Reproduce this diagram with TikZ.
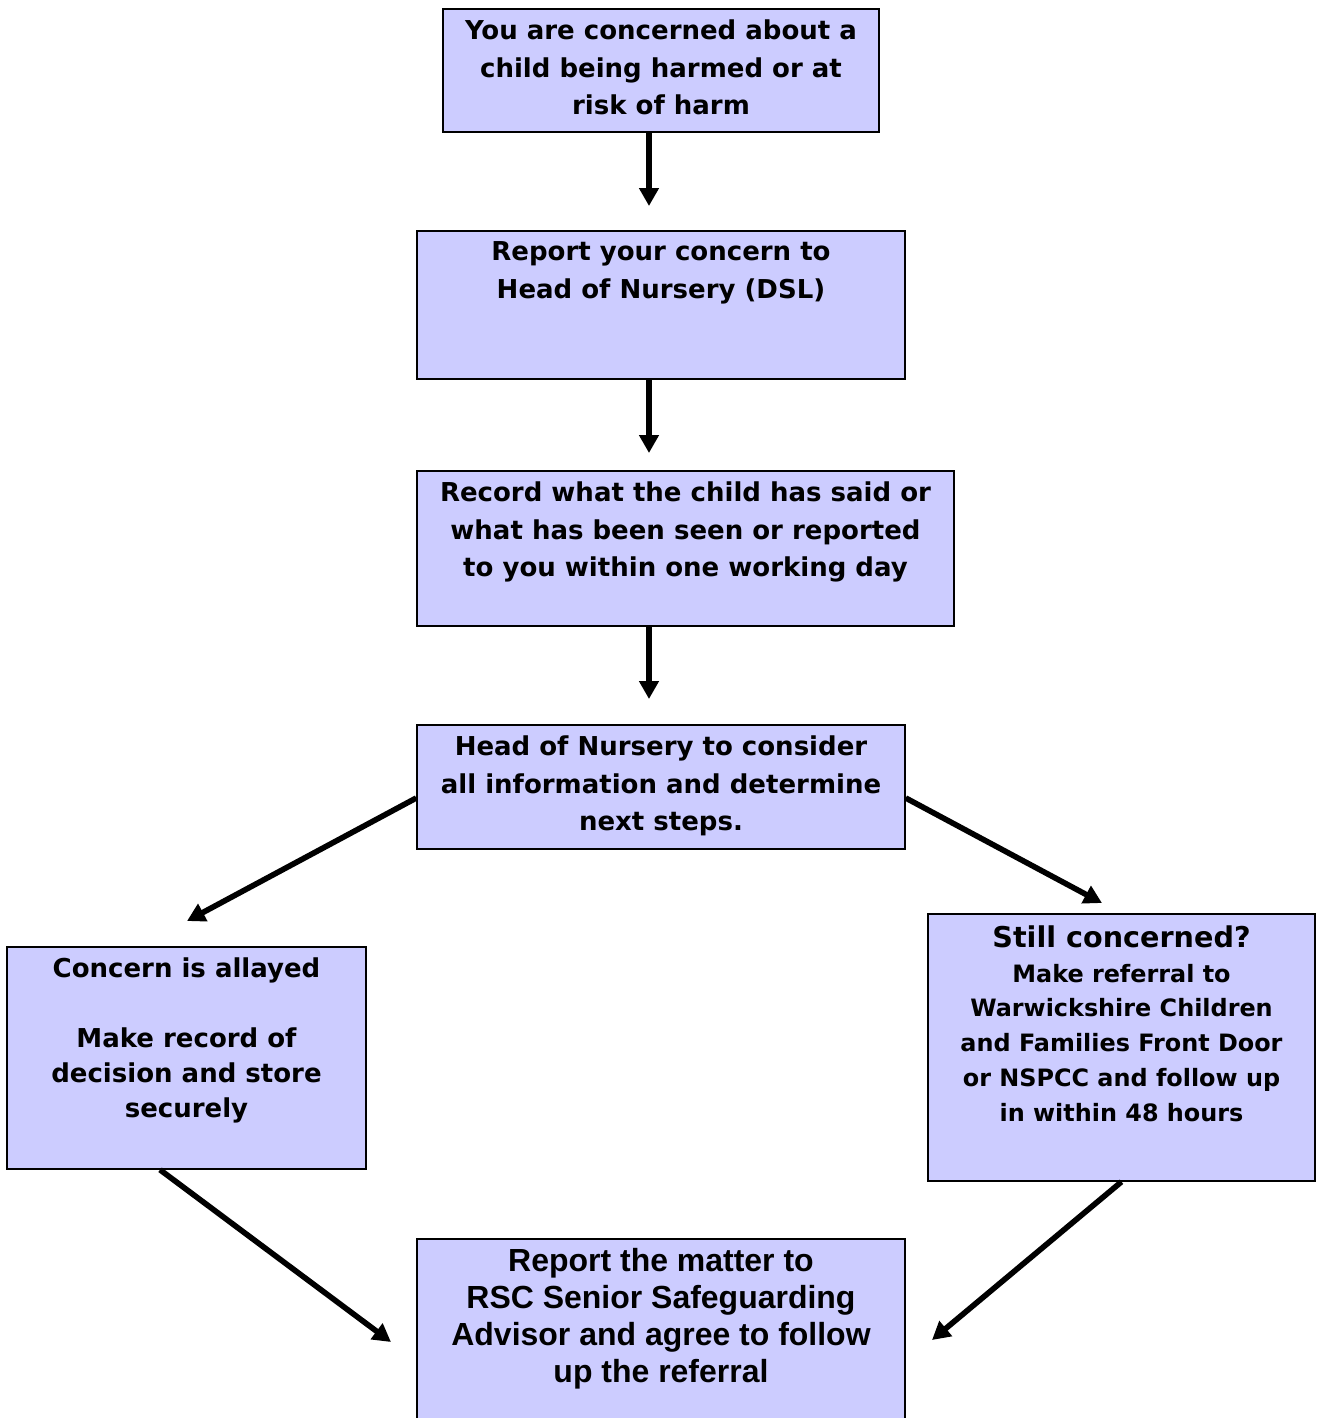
\documentclass[tikz,border=0pt]{standalone}
\usepackage{fontspec}
\setmainfont{DejaVu Sans}
\newfontfamily\arialfont{Liberation Sans}
\usetikzlibrary{arrows.meta,fit}

\definecolor{boxfill}{RGB}{204,204,255}

\tikzset{
  box/.style={draw=black, fill=boxfill, line width=0.85pt, inner sep=0pt},
  boxtext/.style={anchor=north, align=center, inner sep=0pt,
    font=\bfseries\fontsize{14.8}{21.5}\selectfont},
  arr/.style={-{Triangle[length=0.36cm,width=0.38cm]}, line width=3.2pt},
}

\begin{document}
\begin{tikzpicture}[x=0.02cm,y=-0.02cm]
    \useasboundingbox (0,0) rectangle (1320,1418);
    \clip (0,0) rectangle (1320,1418);

    % Boxes
    \node[box, fit={(443,9) (879,132)}] (concern) {};
    \node[box, fit={(417,231) (905,379)}] (report) {};
    \node[box, fit={(417,471) (954,626)}] (record) {};
    \node[box, fit={(417,725) (905,849)}] (consider) {};
    \node[box, fit={(7,947) (366,1169)}] (allayed) {};
    \node[box, fit={(928,914) (1315,1181)}] (referral) {};
    \node[box, fit={(417,1239) (905,1450)}] (advisor) {};

    % Box texts
    \node[boxtext] (concerntxt) at ([yshift=-0.22cm]concern.north)
        {You are concerned about a\\child being harmed or at\\risk of harm};
    \node[boxtext] (reporttxt) at ([yshift=-0.22cm]report.north)
        {Report your concern to\\Head of Nursery (DSL)};
    \node[boxtext] (recordtxt) at ([yshift=-0.22cm]record.north)
        {Record what the child has said or\\what has been seen or reported\\to you within one working day};
    \node[boxtext] (considertxt) at ([yshift=-0.22cm]consider.north)
        {Head of Nursery to consider\\all information and determine\\next steps.};
    \node[boxtext, font=\bfseries\fontsize{14.8}{20}\selectfont] (allayedtxt) at ([yshift=-0.22cm]allayed.north)
        {Concern is allayed\\[20pt]Make record of\\decision and store\\securely};
    \node[boxtext, font=\bfseries\fontsize{13.6}{19.8}\selectfont] (referraltxt) at ([yshift=-0.24cm]referral.north)
        {{\fontsize{16.3}{19}\selectfont Still concerned?}\\Make referral to\\Warwickshire Children\\and Families Front Door\\or NSPCC and follow up\\in within 48 hours};
    \node[boxtext, font=\arialfont\bfseries\fontsize{18.2}{21}\selectfont] (advisortxt) at ([yshift=-0.2cm]advisor.north)
        {Report the matter to\\RSC Senior Safeguarding\\Advisor and agree to follow\\up the referral};

    % Arrow ends
    \coordinate (e1) at (649,206);
    \coordinate (e2) at (649,453);
    \coordinate (e3) at (649,699);
    \coordinate (e4) at (187,921);
    \coordinate (e5) at (1102,903);
    \coordinate (e6) at (391,1342);
    \coordinate (e7) at (932,1340);

    % Arrows
    \draw[arr] (e1 |- concern.south) -- (e1);
    \draw[arr] (e2 |- report.south) -- (e2);
    \draw[arr] (e3 |- record.south) -- (e3);
    \draw[arr] ([yshift=-0.22cm]consider.west) -- (e4);
    \draw[arr] ([yshift=-0.22cm]consider.east) -- (e5);
    \draw[arr] ([xshift=-0.53cm]allayed.south) -- (e6);
    \draw[arr] (referral.south) -- (e7);

\end{tikzpicture}
\end{document}
